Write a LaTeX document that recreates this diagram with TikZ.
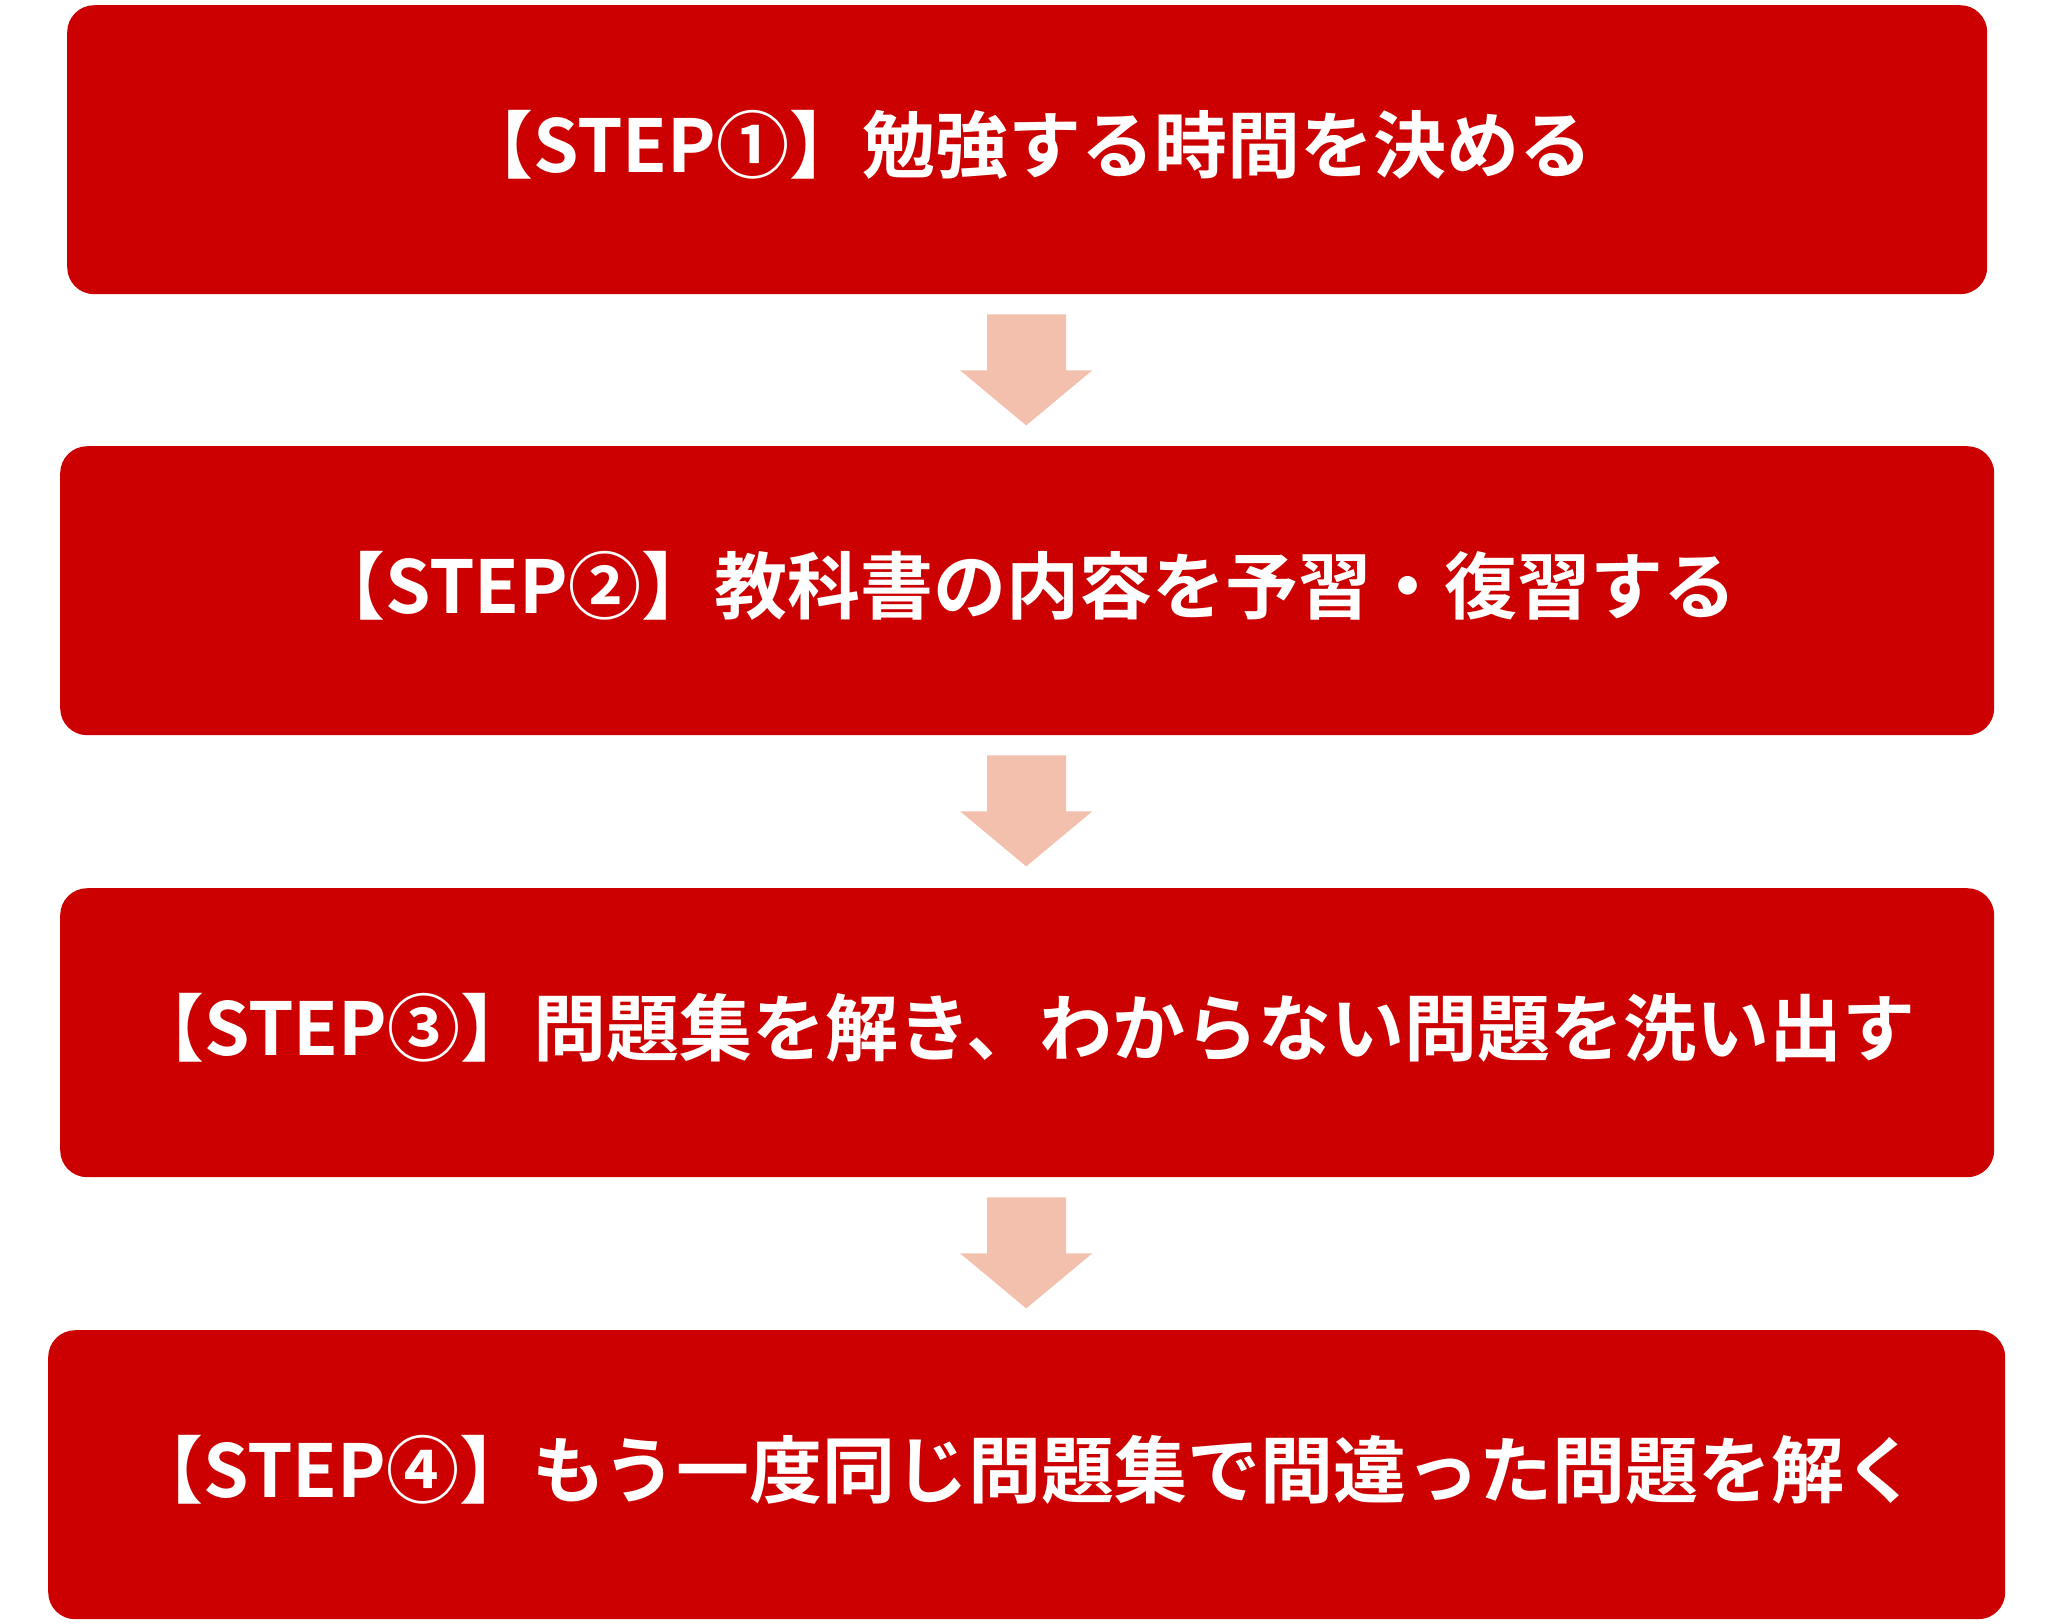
\documentclass[tikz,border=0pt]{standalone}
\usepackage{fontspec}
\newfontfamily\jp{Noto Sans CJK JP}[BoldFont={Noto Sans CJK JP Bold}]
\usetikzlibrary{calc}
\definecolor{boxred}{RGB}{204,0,0}
\definecolor{arrowpink}{RGB}{244,192,174}
\tikzset{
  stepbox/.style={fill=boxred, draw=none, rounded corners=27pt, text=white,
    font=\jp\bfseries\fontsize{73pt}{80pt}\selectfont, inner sep=0pt, anchor=north west},
  flowarrow/.style={fill=arrowpink, draw=none}
}
\begin{document}
\begin{tikzpicture}[x=1pt,y=-1pt]
\useasboundingbox (0,0) rectangle (2048,1624);
\node[stepbox, minimum width=1920pt, minimum height=289pt] (b1) at (67,5) {};
\node[stepbox, minimum width=1934pt, minimum height=289pt] (b2) at (60,446) {};
\node[stepbox, minimum width=1934pt, minimum height=289pt] (b3) at (60,888) {};
\node[stepbox, minimum width=1957pt, minimum height=289pt] (b4) at (48,1330) {};
\node[stepbox, anchor=center] (t1) at ($(b1.center)+(-1,-5)$) {【STEP①】勉強する時間を決める};
\node[stepbox, anchor=center] (t2) at ($(b2.center)+(-3,-5)$) {【STEP②】教科書の内容を予習・復習する};
\node[stepbox, anchor=center] (t3) at ($(b3.center)+(-4,-5)$) {【STEP③】問題集を解き、わからない問題を洗い出す};
\node[stepbox, anchor=center] (t4) at ($(b4.center)+(-3,-5)$) {【STEP④】もう一度同じ問題集で間違った問題を解く};
\foreach \a in {b1,b2,b3}{
  \fill[flowarrow] ($(\a.south)+(-40,20)$) -- ($(\a.south)+(39,20)$) -- ($(\a.south)+(39,76)$)
    -- ($(\a.south)+(65,76)$) -- ($(\a.south)+(-1,131)$) -- ($(\a.south)+(-67,76)$)
    -- ($(\a.south)+(-40,76)$) -- cycle;
}
\end{tikzpicture}
\end{document}
